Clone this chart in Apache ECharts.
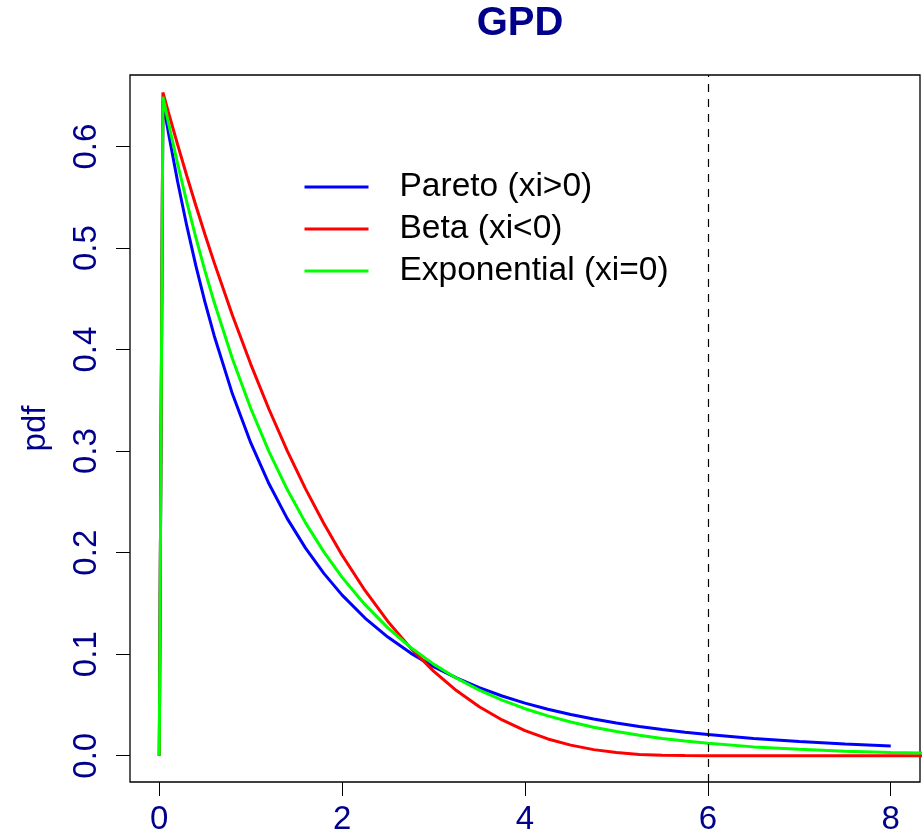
<!DOCTYPE html>
<html>
<head>
<meta charset="utf-8">
<script src="https://cdn.jsdelivr.net/npm/echarts@6/dist/echarts.min.js"></script>
<style>
html,body{margin:0;padding:0;background:#fff;}
#chart{width:922px;height:834px;}
</style>
</head>
<body>
<div id="chart"></div>
<script>
// values
var xs = [0, 0.04, 0.1, 0.2, 0.3, 0.4, 0.5, 0.6, 0.8, 1.0, 1.2, 1.4, 1.6, 1.8, 2.0, 2.25, 2.5, 2.75, 3.0, 3.25, 3.5, 3.75, 4.0, 4.25, 4.5, 4.75, 5.0, 5.25, 5.5, 5.75, 6.0, 6.5, 7.0, 7.5, 8.0, 8.5];
var pareto = [0, 0.6449, 0.6138, 0.5659, 0.5224, 0.4828, 0.4468, 0.4140, 0.3565, 0.3084, 0.2679, 0.2336, 0.2045, 0.1796, 0.1582, 0.1356, 0.1169, 0.1011, 0.0878, 0.0766, 0.0670, 0.0588, 0.0518, 0.0458, 0.0406, 0.0361, 0.0322, 0.0288, 0.0258, 0.0231, 0.0208, 0.0170, 0.0140, 0.0116, 0.0096, null];
var beta = [0, 0.6534, 0.6339, 0.6022, 0.5716, 0.5420, 0.5135, 0.4860, 0.4340, 0.3858, 0.3413, 0.3004, 0.2629, 0.2287, 0.1975, 0.1628, 0.1323, 0.1060, 0.0833, 0.0642, 0.0482, 0.0352, 0.0247, 0.0165, 0.0104, 0.0060, 0.0031, 0.0013, 0.0004, 0.0001, 0, 0, 0, 0, 0, 0];
var expo = [0, 0.6491, 0.6237, 0.5834, 0.5458, 0.5106, 0.4777, 0.4469, 0.3911, 0.3423, 0.2996, 0.2622, 0.2294, 0.2008, 0.1757, 0.1488, 0.1259, 0.1066, 0.0902, 0.0764, 0.0646, 0.0547, 0.0463, 0.0392, 0.0332, 0.0281, 0.0238, 0.0201, 0.0170, 0.0144, 0.0122, 0.0087, 0.0063, 0.0045, 0.0032, 0.0023];
var xTicks = [0, 2, 4, 6, 8];
var yTicks = [0, 0.1, 0.2, 0.3, 0.4, 0.5, 0.6];
var seriesNames = ['Pareto (xi>0)', 'Beta (xi<0)', 'Exponential (xi=0)'];
var vLineX = 6;

function pairs(vals) {
  var out = [];
  for (var i = 0; i < xs.length; i++) {
    if (vals[i] !== null) out.push([xs[i], vals[i]]);
  }
  return out;
}

var FONT = 'Liberation Sans, Arial, Helvetica, sans-serif';
var NAVY = '#00008B';
var FS = 33;

var chart = echarts.init(document.getElementById('chart'), null, {renderer: 'canvas'});

function lineSeries(name, vals, color, extra) {
  var s = {
    name: name,
    type: 'line',
    data: pairs(vals),
    showSymbol: false,
    symbol: 'none',
    smooth: false,
    clip: true,
    lineStyle: {color: color, width: 3},
    itemStyle: {color: color},
    emphasis: {disabled: true},
    animation: false,
    z: 3
  };
  if (extra) for (var k in extra) s[k] = extra[k];
  return s;
}

chart.setOption({
  animation: false,
  backgroundColor: '#fff',
  grid: {
    left: 130, right: 2, top: 75, bottom: 52,
    show: true, borderColor: '#000', borderWidth: 1.3,
    outerBoundsMode: 'none', containLabel: false
  },
  graphic: [
    {
      type: 'text', z: 10, x: 520, y: 24,
      style: {
        text: 'GPD', fill: NAVY,
        font: 'bold 40px ' + FONT, textAlign: 'center', textVerticalAlign: 'middle'
      }
    }
  ],
  legend: {
    orient: 'vertical',
    left: 303, top: 170,
    padding: 0,
    itemWidth: 64, itemHeight: 33, itemGap: 8,
    data: seriesNames,
    selectedMode: false,
    itemStyle: {opacity: 0},
    lineStyle: {width: 3},
    textStyle: {fontFamily: FONT, fontSize: 33.5, color: '#000', padding: [0, 0, 0, 26]}
  },
  xAxis: {
    type: 'value', min: -0.32, max: 8.32,
    axisLine: {show: false, onZero: false},
    splitLine: {show: false},
    axisTick: {show: true, customValues: xTicks, length: 14, inside: false, lineStyle: {color: '#000', width: 1}},
    axisLabel: {show: true, customValues: xTicks, margin: 21, color: NAVY, fontSize: FS, fontFamily: FONT,
      formatter: function (v) { return String(v); }}
  },
  yAxis: {
    type: 'value', min: -0.0259, max: 0.6706,
    name: 'pdf', nameLocation: 'middle', nameGap: 78, nameRotate: 90,
    nameTextStyle: {color: NAVY, fontSize: FS, fontFamily: FONT},
    axisLine: {show: false, onZero: false},
    splitLine: {show: false},
    axisTick: {show: true, customValues: yTicks, length: 14, inside: false, lineStyle: {color: '#000', width: 1}},
    axisLabel: {show: true, customValues: yTicks, rotate: 90, margin: 27, color: NAVY, fontSize: FS, fontFamily: FONT,
      formatter: function (v) { return v.toFixed(1); }}
  },
  series: [
    lineSeries(seriesNames[0], pareto, '#0000FF', {
      markLine: {
        silent: true, symbol: ['none', 'none'], animation: false,
        label: {show: false},
        lineStyle: {color: '#000', width: 1.2, type: [8, 7]},
        emphasis: {disabled: true},
        data: [{xAxis: vLineX}]
      }
    }),
    lineSeries(seriesNames[1], beta, '#FF0000'),
    lineSeries(seriesNames[2], expo, '#00FF00')
  ]
});
</script>
</body>
</html>
